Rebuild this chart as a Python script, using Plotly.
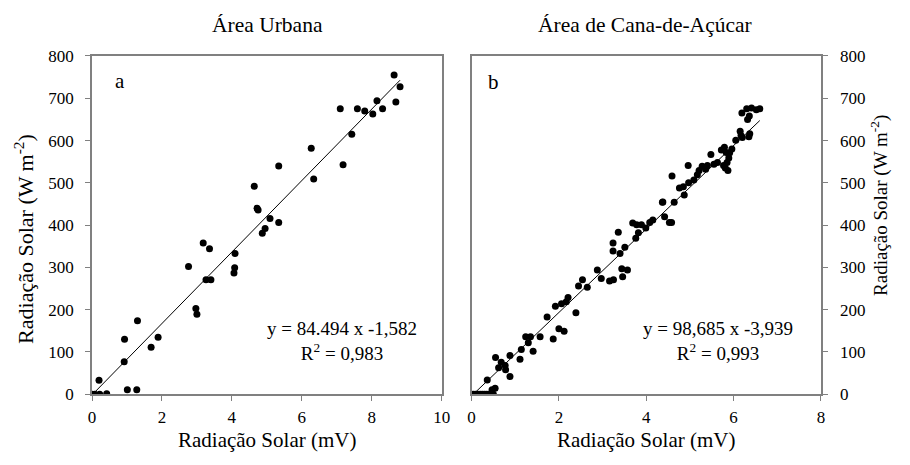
import plotly.graph_objects as go

# Área Urbana: sensor output (mV) vs solar radiation (W m-2)
urb_mv = [0.00, 0.08, 0.22, 0.42, 0.20, 0.92, 1.01, 1.28, 0.93, 1.30, 1.69, 1.89,
          2.97, 3.00, 2.76, 3.18, 3.36, 3.26, 3.40, 4.06, 4.08, 4.09, 4.64, 4.72,
          4.75, 4.87, 4.95, 5.09, 5.34, 5.34, 6.27, 6.34, 7.10, 7.18, 7.43, 7.59,
          7.80, 8.03, 8.15, 8.31, 8.64, 8.69, 8.81]
urb_wm2 = [0, 0, 0, 1, 33, 77, 11, 11, 130, 174, 111, 135,
           203, 189, 302, 358, 344, 271, 271, 287, 299, 333, 492, 440,
           436, 381, 392, 416, 406, 540, 582, 509, 675, 543, 615, 675,
           670, 663, 694, 675, 755, 691, 727]

# Área de Cana-de-Açúcar
cana_mv = [0.00, 0.05, 0.10, 0.15, 0.20, 0.25, 0.30, 0.35, 0.40, 0.45, 0.50, 0.47,
           0.54, 0.36, 0.88, 0.55, 0.62, 0.68, 0.77, 0.78, 0.88, 1.11, 1.14, 1.24,
           1.35, 1.30, 1.41, 1.57, 1.73, 1.87, 1.92, 2.00, 2.12, 2.06, 2.21, 2.17,
           2.39, 2.45, 2.54, 2.65, 2.88, 2.97, 3.16, 3.25, 3.24, 3.24, 3.36, 3.40,
           3.44, 3.46, 3.57, 3.51, 3.69, 3.78, 3.89, 3.99, 4.08, 4.15, 3.76, 3.82,
           4.38, 4.42, 4.53, 4.58, 4.64, 4.37, 4.76, 4.85, 4.87, 4.59, 4.97, 4.96,
           5.09, 5.17, 5.21, 5.28, 5.36, 5.40, 5.48, 5.55, 5.63, 5.72, 5.79, 5.83,
           5.89, 5.91, 5.77, 5.81, 5.87, 5.85, 5.96, 6.05, 6.15, 6.17, 6.20, 6.35,
           6.37, 6.19, 6.30, 6.41, 6.52, 6.60, 6.32, 6.36]
cana_wm2 = [0, 0, 0, 0, 0, 0, 0, 0, 0, 0, 0, 11,
            14, 34, 42, 87, 63, 76, 68, 58, 92, 83, 106, 136,
            136, 122, 102, 136, 183, 131, 208, 155, 149, 214, 229, 219,
            193, 256, 271, 253, 294, 274, 268, 271, 358, 339, 383, 333,
            297, 278, 294, 348, 405, 401, 401, 393, 406, 412, 369, 382,
            455, 420, 406, 406, 454, 454, 488, 491, 471, 516, 500, 541,
            507, 519, 529, 539, 532, 541, 567, 544, 548, 578, 584, 572,
            559, 571, 541, 535, 529, 548, 580, 601, 622, 612, 607, 609,
            616, 665, 675, 677, 673, 675, 650, 658]

# Linear fits: y = a*x + b
urb_fit = (84.494, -1.582)
cana_fit = (98.685, -3.939)

titles = ["Área Urbana", "Área de Cana-de-Açúcar"]
eq_text = ["y = 84.494 x -1,582<br>R<sup>2</sup> = 0,983",
           "y = 98,685 x -3,939<br>R<sup>2</sup> = 0,993"]
x_label = "Radiação Solar (mV)"
y_label = "Radiação Solar (W m<sup>-2</sup>)"

W, H = 910, 465
FONT = "Liberation Serif"


def px(x):
    return x / W


def py(y):
    return 1 - y / H


fig = go.Figure()

marker = dict(color="black", size=7)
fig.add_trace(go.Scatter(x=urb_mv, y=urb_wm2, mode="markers", marker=marker,
                         xaxis="x", yaxis="y", showlegend=False))
fx = [0, max(urb_mv)]
fig.add_trace(go.Scatter(x=fx, y=[urb_fit[0] * v + urb_fit[1] for v in fx],
                         mode="lines", line=dict(color="black", width=1),
                         xaxis="x", yaxis="y", showlegend=False))

fig.add_trace(go.Scatter(x=cana_mv, y=cana_wm2, mode="markers", marker=marker,
                         xaxis="x2", yaxis="y2", showlegend=False))
fx2 = [0.04, max(cana_mv)]
fig.add_trace(go.Scatter(x=fx2, y=[cana_fit[0] * v + cana_fit[1] for v in fx2],
                         mode="lines", line=dict(color="black", width=1),
                         xaxis="x2", yaxis="y2", showlegend=False))

ydom = [py(401.7), py(49)]
axis_common = dict(showgrid=False, zeroline=False, showline=True, mirror=True,
                   linecolor="#808080", linewidth=1.5, ticks="outside",
                   ticklen=5, tickcolor="#808080", tickwidth=1.2,
                   tickfont=dict(family=FONT, size=17, color="black"))

fig.update_layout(
    width=W, height=H,
    margin=dict(l=0, r=0, t=0, b=0),
    paper_bgcolor="white", plot_bgcolor="white",
    font=dict(family=FONT, color="black"),
    xaxis=dict(domain=[px(89.3), px(444)], range=[0, 10], dtick=2,
               anchor="y", ticklabelstandoff=2, **axis_common),
    yaxis=dict(domain=ydom, range=[0, 800], dtick=100, anchor="x",
               side="left", ticklabelstandoff=8, **axis_common),
    xaxis2=dict(domain=[px(474.3), px(828.8)], range=[0, 8], dtick=2,
                anchor="y2", ticklabelstandoff=2, **axis_common),
    yaxis2=dict(domain=ydom, range=[0, 800], dtick=100, anchor="x2",
                side="right", ticklabelstandoff=9, **axis_common),
)


def label(x0, y0, text, size, angle=0):
    return dict(x=px(x0), y=py(y0), text=text, xref="paper", yref="paper",
                showarrow=False, xanchor="center", yanchor="middle",
                textangle=angle, align="center",
                font=dict(family=FONT, size=size, color="black"))


ann = [
    # panel titles
    label(267, 17, titles[0], 21.5),
    label(650, 17, titles[1], 21.5),
    # x-axis titles
    label(266.5, 449, x_label, 21),
    label(651, 449, x_label, 21),
    # y-axis titles
    label(20, 240, y_label, 22, -90),
    label(888, 205, y_label, 19, -90),
    # panel letters
    label(118, 75, "a", 21),
    label(497, 76, "b", 21),
    # regression equations
    label(343, 346, eq_text[0], 19),
    label(724, 346, eq_text[1], 19),
]

fig.update_layout(annotations=ann)

fig.write_html("out.html")
